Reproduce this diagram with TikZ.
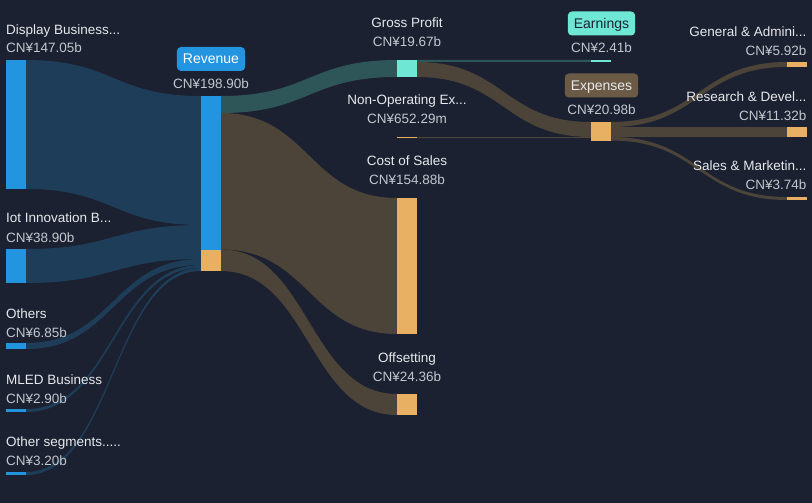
\documentclass[tikz,border=0pt]{standalone}
\usepackage{fontspec}
\setmainfont{Liberation Sans}
\definecolor{bg}{HTML}{1B2130}
\definecolor{labc}{HTML}{E6E8EC}
\definecolor{valc}{HTML}{C3C7CE}
\definecolor{nblue}{HTML}{2394DF}
\definecolor{fblue}{HTML}{1D3D58}
\definecolor{nteal}{HTML}{6EE7D4}
\definecolor{fteal}{HTML}{2E5558}
\definecolor{norange}{HTML}{E8B062}
\definecolor{fbrown}{HTML}{4C4439}
\definecolor{bbrown}{HTML}{6B5A45}
\newcommand{\flowband}[7]{%
  \fill[#7] (#1,#2) .. controls ({(#1+#4)/2},#2) and ({(#1+#4)/2},#5) .. (#4,#5)
    -- (#4,#6) .. controls ({(#1+#4)/2},#6) and ({(#1+#4)/2},#3) .. (#1,#3) -- cycle;}
\tikzset{
  lab/.style={text=labc,font=\fontsize{13.5}{16}\selectfont,inner sep=0pt,text height=9.7pt,text depth=0pt},
  val/.style={text=valc,font=\fontsize{13.5}{16}\selectfont,inner sep=0pt,text height=9.7pt,text depth=0pt},
  badge/.style={rounded corners=4pt,minimum height=24pt,inner xsep=6pt,inner ysep=0pt,text height=9.7pt,text depth=0pt,font=\fontsize{14}{16}\selectfont},
}
\begin{document}
\begin{tikzpicture}[x=1pt,y=-1pt]
\fill[bg] (0,0) rectangle (812,503);
\useasboundingbox (0,0) rectangle (812,503);
% flows left -> revenue
\flowband{26}{60}{189}{201}{96}{225}{fblue}
\flowband{26}{249}{283}{201}{225}{259}{fblue}
\flowband{26}{343}{349}{201}{259}{265}{fblue}
\flowband{26}{409}{412}{201}{265}{268}{fblue}
\flowband{26}{472}{475}{201}{268}{271}{fblue}
% revenue -> right
\flowband{221}{96}{113}{397}{60}{77}{fteal}
\flowband{221}{113}{249.5}{397}{198}{334}{fbrown}
\flowband{221}{249.5}{271}{397}{394}{415}{fbrown}
% gross profit -> earnings / expenses
\flowband{417}{60}{62}{591}{60}{62}{fteal}
\flowband{417}{62}{77}{591}{122}{137}{fbrown}
\flowband{417}{137}{138}{591}{137}{138}{fbrown}
% expenses -> right
\flowband{611}{122}{127}{787}{62}{67}{fbrown}
\flowband{611}{127}{137}{787}{127}{137}{fbrown}
\flowband{611}{137}{140.5}{787}{197}{200}{fbrown}
% nodes
\fill[nblue] (6,60) rectangle (26,189) coordinate (disp);
\fill[nblue] (6,249) rectangle (26,283) coordinate (iot);
\fill[nblue] (6,343) rectangle (26,349) coordinate (oth);
\fill[nblue] (6,409) rectangle (26,412) coordinate (mled);
\fill[nblue] (6,472) rectangle (26,475) coordinate (oseg);
\fill[nblue] (201,96.5) rectangle (221,249.5) coordinate (rev);
\fill[norange] (201,249.5) rectangle (221,271);
\fill[nteal] (397,60) rectangle (417,77) coordinate (gp);
\fill[norange] (397,136.8) rectangle (417,137.8) coordinate (nonop);
\fill[norange] (397,198) rectangle (417,334) coordinate (cos);
\fill[norange] (397,394) rectangle (417,415) coordinate (offs);
\fill[nteal] (591,60) rectangle (611,62) coordinate (earn);
\fill[norange] (591,122) rectangle (611,141) coordinate (exp);
\fill[norange] (787,62) rectangle (807,67) coordinate (ga);
\fill[norange] (787,127) rectangle (807,137) coordinate (rd);
\fill[norange] (787,197) rectangle (807,200) coordinate (sm);
% left labels
\node[lab,anchor=west] (tdisp) at (6,29.5) {Display Business...};
\node[val,anchor=west] (vdisp) at (6,48) {CN¥147.05b};
\node[lab,anchor=west] (tiot) at (6,218) {Iot Innovation B...};
\node[val,anchor=west] (viot) at (6,237.5) {CN¥38.90b};
\node[lab,anchor=west] (toth) at (6,313.5) {Others};
\node[val,anchor=west] (voth) at (6,332.5) {CN¥6.85b};
\node[lab,anchor=west] (tmled) at (6,379.5) {MLED Business};
\node[val,anchor=west] (vmled) at (6,398.5) {CN¥2.90b};
\node[lab,anchor=west] (toseg) at (6,441.5) {Other segments.....};
\node[val,anchor=west] (voseg) at (6,460.5) {CN¥3.20b};
% revenue
\node[badge,fill=nblue,text=white,minimum width=64pt] (brev) at (211,59) {Revenue};
\node[val] (vrev) at (211,84) {CN¥198.90b};
% middle
\node[lab] (tgp) at (407,23) {Gross Profit};
\node[val] (vgp) at (407,42) {CN¥19.67b};
\node[lab] (tnon) at (407,100) {Non-Operating Ex...};
\node[val] (vnon) at (407,119) {CN¥652.29m};
\node[lab] (tcos) at (407,161) {Cost of Sales};
\node[val] (vcos) at (407,180) {CN¥154.88b};
\node[lab] (toff) at (407,357.5) {Offsetting};
\node[val] (voff) at (407,376.5) {CN¥24.36b};
% earnings / expenses
\node[badge,fill=nteal,text=bg,minimum width=67pt] (bearn) at (601.5,23.5) {Earnings};
\node[val] (vearn) at (601.5,48) {CN¥2.41b};
\node[badge,fill=bbrown,text=labc,minimum width=71pt] (bexp) at (601.5,85.5) {Expenses};
\node[val] (vexp) at (601.5,110) {CN¥20.98b};
% right labels
\node[lab,anchor=east] (tga) at (806.5,31.5) {General \& Admini...};
\node[val,anchor=east] (vga) at (806.5,50.5) {CN¥5.92b};
\node[lab,anchor=east] (trd) at (806.5,96.5) {Research \& Devel...};
\node[val,anchor=east] (vrd) at (806.5,115.5) {CN¥11.32b};
\node[lab,anchor=east] (tsm) at (806.5,166) {Sales \& Marketin...};
\node[val,anchor=east] (vsm) at (806.5,185) {CN¥3.74b};
\end{tikzpicture}
\end{document}
